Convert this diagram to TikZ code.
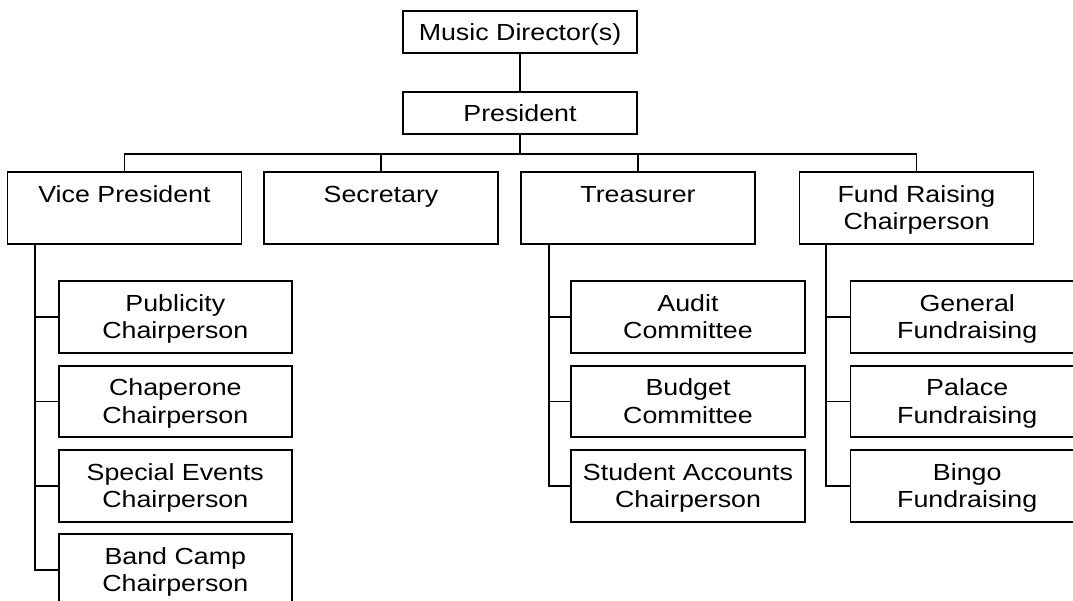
\documentclass[tikz,border=0pt]{standalone}
\usepackage{fontspec}
\setmainfont{Liberation Sans}[FakeStretch=1.15]
\begin{document}
\begin{tikzpicture}[x=1pt,y=-1pt,
  box/.style={draw, line width=1.9pt, rectangle, minimum width=234pt, minimum height=71.5pt, inner sep=0pt},
  topbox/.style={box, minimum height=42.6pt},
  subbox/.style={box, minimum width=233.5pt},
  txt/.style={inner sep=0pt, align=center, font=\fontsize{23.3}{27.4}\selectfont},
  link/.style={line width=1.9pt}]
\clip (0,0) rectangle (1073,601);
\fill[white] (0,0) rectangle (1073,601);
% boxes
\node[topbox] (md) at (520,32) {};
\node[topbox] (pres) at (520,113) {};
\node[box] (vp) at (124.5,208) {};
\node[box] (sec) at (381,208) {};
\node[box] (tre) at (638,208) {};
\node[box] (fr) at (916.5,208) {};
\node[subbox] (pub) at (175.3,317.2) {};
\node[subbox] (chap) at (175.3,401.5) {};
\node[subbox] (spec) at (175.3,485.8) {};
\node[subbox] (band) at (175.3,570.1) {};
\node[subbox] (aud) at (688,317.2) {};
\node[subbox] (bud) at (688,401.5) {};
\node[subbox] (stu) at (688,485.8) {};
\node[subbox] (gen) at (967.2,317.2) {};
\node[subbox] (pal) at (967.2,401.5) {};
\node[subbox] (bin) at (967.2,485.8) {};
% texts
\node[txt] (md-t) at ([yshift=-2.6pt]md.center) {\strut Music Director(s)\strut};
\node[txt] (pres-t) at ([yshift=-2.6pt]pres.center) {\strut President\strut};
\node[txt] (vp-t) at ([yshift=-2.6pt]vp.center) {\strut Vice President\\\strut};
\node[txt] (sec-t) at ([yshift=-2.6pt]sec.center) {\strut Secretary\\\strut};
\node[txt] (tre-t) at ([yshift=-2.6pt]tre.center) {\strut Treasurer\\\strut};
\node[txt] (fr-t) at ([yshift=-2.6pt]fr.center) {\strut Fund Raising\\\strut Chairperson};
\node[txt] (pub-t) at ([yshift=-2.6pt]pub.center) {\strut Publicity\\\strut Chairperson};
\node[txt] (chap-t) at ([yshift=-2.6pt]chap.center) {\strut Chaperone\\\strut Chairperson};
\node[txt] (spec-t) at ([yshift=-2.6pt]spec.center) {\strut Special Events\\\strut Chairperson};
\node[txt] (band-t) at ([yshift=-2.6pt]band.center) {\strut Band Camp\\\strut Chairperson};
\node[txt] (aud-t) at ([yshift=-2.6pt]aud.center) {\strut Audit\\\strut Committee};
\node[txt] (bud-t) at ([yshift=-2.6pt]bud.center) {\strut Budget\\\strut Committee};
\node[txt] (stu-t) at ([yshift=-2.6pt]stu.center) {\strut Student Accounts\\\strut Chairperson};
\node[txt] (gen-t) at ([yshift=-2.6pt]gen.center) {\strut General\\\strut Fundraising};
\node[txt] (pal-t) at ([yshift=-2.6pt]pal.center) {\strut Palace\\\strut Fundraising};
\node[txt] (bin-t) at ([yshift=-2.6pt]bin.center) {\strut Bingo\\\strut Fundraising};
% connectors
\coordinate (bus) at (520,153.7);
\draw[link] (md) -- (pres);
\draw[link] (pres.south) -- (bus);
\draw[link] (bus) -| (vp.north);
\draw[link] (bus) -| (sec.north);
\draw[link] (bus) -| (tre.north);
\draw[link] (bus) -| (fr.north);
\coordinate (vps) at ([xshift=28.7pt]vp.south west);
\coordinate (tres) at ([xshift=28.7pt]tre.south west);
\coordinate (frs) at ([xshift=27.5pt]fr.south west);
\foreach \c in {pub,chap,spec,band} \draw[link] (vps) |- (\c.west);
\foreach \c in {aud,bud,stu} \draw[link] (tres) |- (\c.west);
\foreach \c in {gen,pal,bin} \draw[link] (frs) |- (\c.west);
\end{tikzpicture}
\end{document}
